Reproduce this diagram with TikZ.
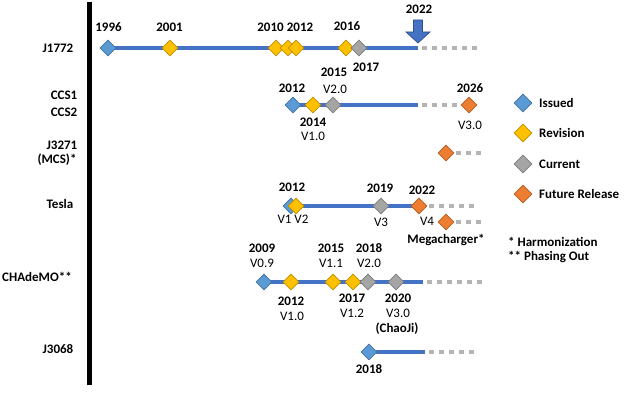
\documentclass[tikz,border=0pt]{standalone}
\usepackage{fontspec}
\setmainfont{Carlito}
\usetikzlibrary{
  shapes.geometric,
  backgrounds,
}

\definecolor{issuedblue}{HTML}{5B9BD5}
\definecolor{revyellow}{HTML}{FFC000}
\definecolor{curgray}{HTML}{A5A5A5}
\definecolor{futorange}{HTML}{ED7D31}
\definecolor{trackblue}{HTML}{4472C4}
\definecolor{dotgray}{HTML}{B4B4B4}

\tikzset{
  gem/.style={shape=diamond, inner sep=0, minimum width=16pt, minimum height=16pt, line width=0.7pt},
  issued/.style={gem, fill=issuedblue, draw=issuedblue!75!black},
  revision/.style={gem, fill=revyellow, draw=revyellow!75!black},
  current/.style={gem, fill=curgray, draw=curgray!75!black},
  future/.style={gem, fill=futorange, draw=futorange!75!black},
  track/.style={trackblue, line width=4.5pt},
  pending/.style={dotgray, line width=4.5pt, dash pattern=on 4.5pt off 5.5pt},
  yr/.style={inner sep=0, font=\bfseries\fontsize{13}{15}\selectfont},
  ver/.style={inner sep=0, font=\fontsize{13}{15}\selectfont},
  row/.style={inner sep=0, font=\bfseries\fontsize{13}{15}\selectfont},
  key/.style={inner sep=0, anchor=west, font=\bfseries\fontsize{13}{15}\selectfont},
}

\begin{document}
\begin{tikzpicture}[x=1pt, y=-1pt]
\useasboundingbox (0,0) rectangle (624,393);

\draw[line width=5pt] (89.5,2) -- (89.5,385);

% row names
\node[row] (nj1772) at (58,48) {J1772};
\node[row] (nccs1) at (64,95) {CCS1};
\node[row] (nccs2) at (64,112) {CCS2};
\node[row] (nj3271) at (62,145) {J3271};
\node[row] (nmcs) at (57,160) {(MCS)*};
\node[row] (ntesla) at (60,204) {Tesla};
\node[row] (nchademo) at (37,277) {CHAdeMO**};
\node[row] (nj3068) at (58,349) {J3068};

% J1772
\node[issued] (j96) at (108,48) {};
\node[revision] (j01) at (170,48) {};
\node[revision] (j10) at (276,48) {};
\node[revision] (j12a) at (288,48) {};
\node[revision] (j12b) at (296,48) {};
\node[revision] (j16) at (346,48) {};
\node[current] (j17) at (359,48) {};
\coordinate (jnow) at (418,48);
\coordinate (jdot) at (422,48);
\coordinate (jfar) at (478,48);
\begin{scope}[on background layer]
  \draw[track] (j96.center) -- (jnow);
\end{scope}
\draw[pending] (jdot) -- (jfar);
\draw[trackblue!70!black, fill=trackblue, line width=0.7pt]
  ([xshift=-4.5pt, yshift=28pt]jnow) -- ([xshift=4.5pt, yshift=28pt]jnow)
  -- ([xshift=4.5pt, yshift=16pt]jnow) -- ([xshift=12pt, yshift=16pt]jnow)
  -- ([yshift=5pt]jnow) -- ([xshift=-12pt, yshift=16pt]jnow)
  -- ([xshift=-4.5pt, yshift=16pt]jnow) -- cycle;
\node[yr] (lj96) at (108.5,27) {1996};
\node[yr] (lj01) at (169.5,27) {2001};
\node[yr] (lj10) at (270.5,27) {2010};
\node[yr] (lj12) at (300,27) {2012};
\node[yr] (lj16) at (347,26) {2016};
\node[yr] (lj17) at (366,67) {2017};
\node[yr] (lj22) at (419,9) {2022};

% CCS1 / CCS2
\node[issued] (c12) at (293,105) {};
\node[revision] (c14) at (313,105) {};
\node[current] (c15) at (333,105) {};
\node[future] (c26) at (469,105) {};
\coordinate (cnow) at (418,105);
\coordinate (cdot) at (422,105);
\coordinate (cfar) at (462,105);
\begin{scope}[on background layer]
  \draw[track] (c12.center) -- (cnow);
\end{scope}
\draw[pending] (cdot) -- (cfar);
\node[yr] (lc12) at (292,88) {2012};
\node[yr] (lc15) at (334,72) {2015};
\node[ver] (vc15) at (335,89) {V2.0};
\node[yr] (lc14) at (313,122) {2014};
\node[ver] (vc14) at (313,136) {V1.0};
\node[yr] (lc26) at (470,88) {2026};
\node[ver] (vc26) at (470,125) {V3.0};

% J3271 (MCS)
\node[future] (m1) at (446,153) {};
\coordinate (mdot) at (456,153);
\coordinate (mfar) at (481,153);
\draw[pending] (mdot) -- (mfar);

% Tesla
\node[issued] (t12a) at (291,206) {};
\node[revision] (t12b) at (296,206) {};
\node[current] (t19) at (381,206) {};
\node[future] (t22) at (419,206) {};
\coordinate (tdot) at (429,206);
\coordinate (tfar) at (479,206);
\begin{scope}[on background layer]
  \draw[track] (t12a.center) -- (t22.center);
\end{scope}
\draw[pending] (tdot) -- (tfar);
\node[future] (tmega) at (446,222) {};
\coordinate (tmdot) at (456,222);
\coordinate (tmfar) at (481,222);
\draw[pending] (tmdot) -- (tmfar);
\node[yr] (lt12) at (292,187) {2012};
\node[ver] (vt12) at (293,219) {V1 V2};
\node[yr] (lt19) at (380,188) {2019};
\node[ver] (vt19) at (381,222) {V3};
\node[yr] (lt22) at (422,190) {2022};
\node[ver] (vt22) at (427,221) {V4};
\node[yr] (lmega) at (446,240) {Megacharger*};

% CHAdeMO
\node[issued] (h09) at (264,282) {};
\node[revision] (h12) at (291,282) {};
\node[revision] (h15) at (333,282) {};
\node[revision] (h17) at (353,282) {};
\node[current] (h18) at (368,282) {};
\node[current] (h20) at (396,282) {};
\coordinate (hnow) at (423,282);
\coordinate (hdot) at (427,282);
\coordinate (hfar) at (483,282);
\begin{scope}[on background layer]
  \draw[track] (h09.center) -- (hnow);
\end{scope}
\draw[pending] (hdot) -- (hfar);
\node[yr] (lh09) at (262,248) {2009};
\node[ver] (vh09) at (262,263) {V0.9};
\node[yr] (lh15) at (331,248) {2015};
\node[ver] (vh15) at (331,263) {V1.1};
\node[yr] (lh18) at (369,248) {2018};
\node[ver] (vh18) at (369,263) {V2.0};
\node[yr] (lh12) at (291,301) {2012};
\node[ver] (vh12) at (292,316) {V1.0};
\node[yr] (lh17) at (352,298) {2017};
\node[ver] (vh17) at (352,313) {V1.2};
\node[yr] (lh20) at (398,298) {2020};
\node[ver] (vh20) at (398,313) {V3.0};
\node[yr] (lchaoji) at (397,329) {(ChaoJi)};

% J3068
\node[issued] (s18) at (369,352) {};
\coordinate (snow) at (425,352);
\coordinate (sdot) at (429,352);
\coordinate (sfar) at (475,352);
\begin{scope}[on background layer]
  \draw[track] (s18.center) -- (snow);
\end{scope}
\draw[pending] (sdot) -- (sfar);
\node[yr] (ls18) at (369,369) {2018};

% legend
\node[issued, minimum width=18pt, minimum height=18pt] (kissued) at (523,103) {};
\node[revision, minimum width=18pt, minimum height=18pt] (krev) at (523,133) {};
\node[current, minimum width=18pt, minimum height=18pt] (kcur) at (523,164) {};
\node[future, minimum width=18pt, minimum height=18pt] (kfut) at (523,194) {};
\node[key] (tissued) at (539,103) {Issued};
\node[key] (trev) at (539,133) {Revision};
\node[key] (tcur) at (539,164) {Current};
\node[key] (tfut) at (539,194) {Future Release};
\node[key] (tharm) at (508,242) {* Harmonization};
\node[key] (tphase) at (508,257) {** Phasing Out};
\end{tikzpicture}
\end{document}
